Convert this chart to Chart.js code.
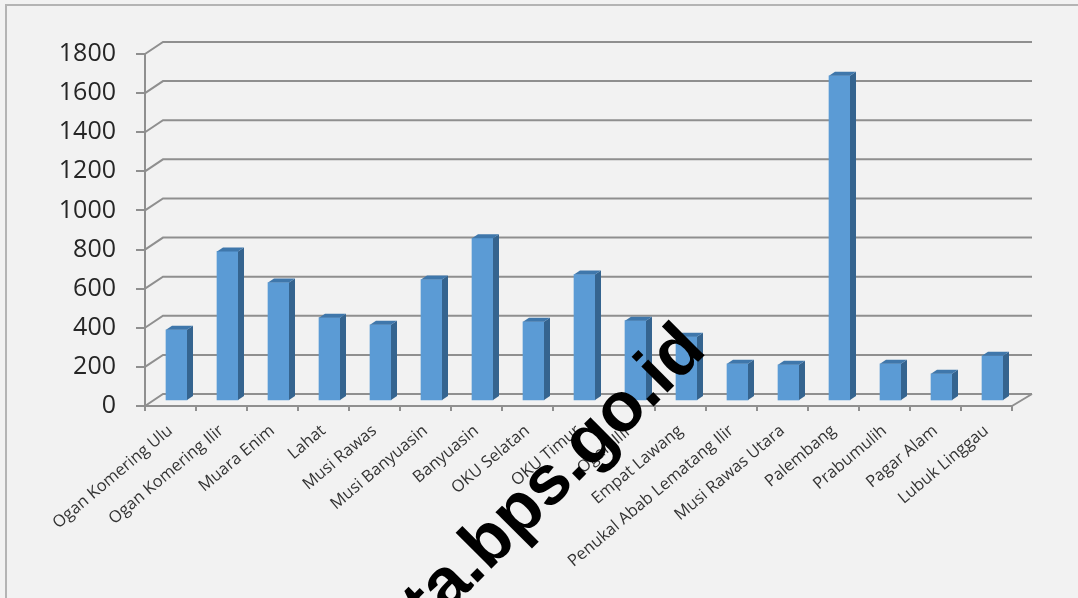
<!DOCTYPE html>
<html>
<head>
<meta charset="utf-8">
<script src="https://cdn.jsdelivr.net/npm/chart.js@4/dist/chart.umd.min.js"></script>
<style>
html,body{margin:0;padding:0;background:#f2f2f2;overflow:hidden}
#wrap{position:relative;width:1078px;height:598px}
#frame{position:absolute;left:5px;top:4px;right:-4px;bottom:-4px;border:2px solid #b4b4b4;box-sizing:border-box;pointer-events:none}
</style>
</head>
<body>
<div id="wrap"><canvas id="c" width="1078" height="598"></canvas><div id="frame"></div></div>
<script>
var categories=['Ogan Komering Ulu','Ogan Komering Ilir','Muara Enim','Lahat','Musi Rawas','Musi Banyuasin','Banyuasin','OKU Selatan','OKU Timur','Ogan Ilir','Empat Lawang','Penukal Abab Lematang Ilir','Musi Rawas Utara','Palembang','Prabumulih','Pagar Alam','Lubuk Linggau'];
var values=[364,765,606,426,390,621,832,405,647,411,329,190,185,1663,190,139,231];
var yTicks=[0,200,400,600,800,1000,1200,1400,1600,1800];
var watermark='ta.bps.go.id';

var depthX=6, depthY=4;   // bar side
var wallX=18, wallY=12;   // chart back wall
var lineCol='#8f8f8f';

var walls={
  id:'walls',
  beforeDatasetsDraw:function(chart){
    var ctx=chart.ctx, x=chart.scales.x, y=chart.scales.y;
    ctx.save();
    ctx.strokeStyle=lineCol; ctx.lineWidth=2;
    yTicks.forEach(function(t){
      var py=y.getPixelForValue(t);
      ctx.beginPath();
      ctx.moveTo(x.left,py);
      ctx.lineTo(x.left+wallX,py-wallY);
      ctx.lineTo(x.right+wallX+2,py-wallY);
      ctx.stroke();
    });
    var p0=y.getPixelForValue(0);
    ctx.beginPath();
    ctx.moveTo(x.right,p0);
    ctx.lineTo(x.right+wallX+2,p0-wallY);
    ctx.stroke();
    ctx.restore();
  },
  beforeDatasetDraw:function(chart){
    chart.ctx.save();
    chart.ctx.translate(6,-5);
  },
  afterDatasetDraw:function(chart){
    var ctx=chart.ctx;
    chart.getDatasetMeta(0).data.forEach(function(b){
      var l=b.x-b.width/2, r=b.x+b.width/2;
      ctx.fillStyle='#35648f';
      ctx.beginPath();
      ctx.moveTo(r,b.y); ctx.lineTo(r+depthX,b.y-depthY);
      ctx.lineTo(r+depthX,b.base-depthY); ctx.lineTo(r,b.base);
      ctx.closePath(); ctx.fill();
      ctx.fillStyle='#3f77ab';
      ctx.beginPath();
      ctx.moveTo(l,b.y); ctx.lineTo(l+depthX,b.y-depthY);
      ctx.lineTo(r+depthX,b.y-depthY); ctx.lineTo(r,b.y);
      ctx.closePath(); ctx.fill();
    });
    ctx.restore();
  }
};

var stamp={
  id:'stamp',
  afterDraw:function(chart){
    var ctx=chart.ctx;
    ctx.save();
    ctx.translate(708,352);
    ctx.rotate(-Math.PI/4);
    ctx.font='bold 70px "Liberation Sans"';
    ctx.textAlign='right';
    ctx.textBaseline='alphabetic';
    ctx.fillStyle='#000';
    ctx.fillText(watermark,0,0);
    ctx.restore();
  }
};

new Chart(document.getElementById('c').getContext('2d'),{
  type:'bar',
  data:{labels:categories,datasets:[{data:values,backgroundColor:'#5b9bd5',barThickness:21}]},
  plugins:[walls,stamp],
  options:{
    responsive:false,animation:false,
    layout:{padding:{top:54,right:66,left:0,bottom:0}},
    plugins:{legend:{display:false},tooltip:{enabled:false}},
    scales:{
      x:{
        afterFit:function(s){ s.height=192; },
        grid:{drawOnChartArea:false,color:lineCol,tickLength:5,lineWidth:2},
        border:{color:lineCol,width:2},
        ticks:{color:'#333',font:{family:'"Open Sans"',size:16.5},minRotation:40,maxRotation:40,autoSkip:false,padding:10}
      },
      y:{
        min:0,max:1800,
        afterFit:function(s){ s.width=145; },
        afterBuildTicks:function(s){ s.ticks=yTicks.map(function(v){return {value:v};}); },
        grid:{drawOnChartArea:false,color:lineCol,tickLength:9,lineWidth:2},
        border:{color:lineCol,width:2},
        ticks:{color:'#262626',font:{family:'"Open Sans"',size:25},padding:20,callback:function(v){return String(v);}}
      }
    }
  }
});
</script>
</body>
</html>
